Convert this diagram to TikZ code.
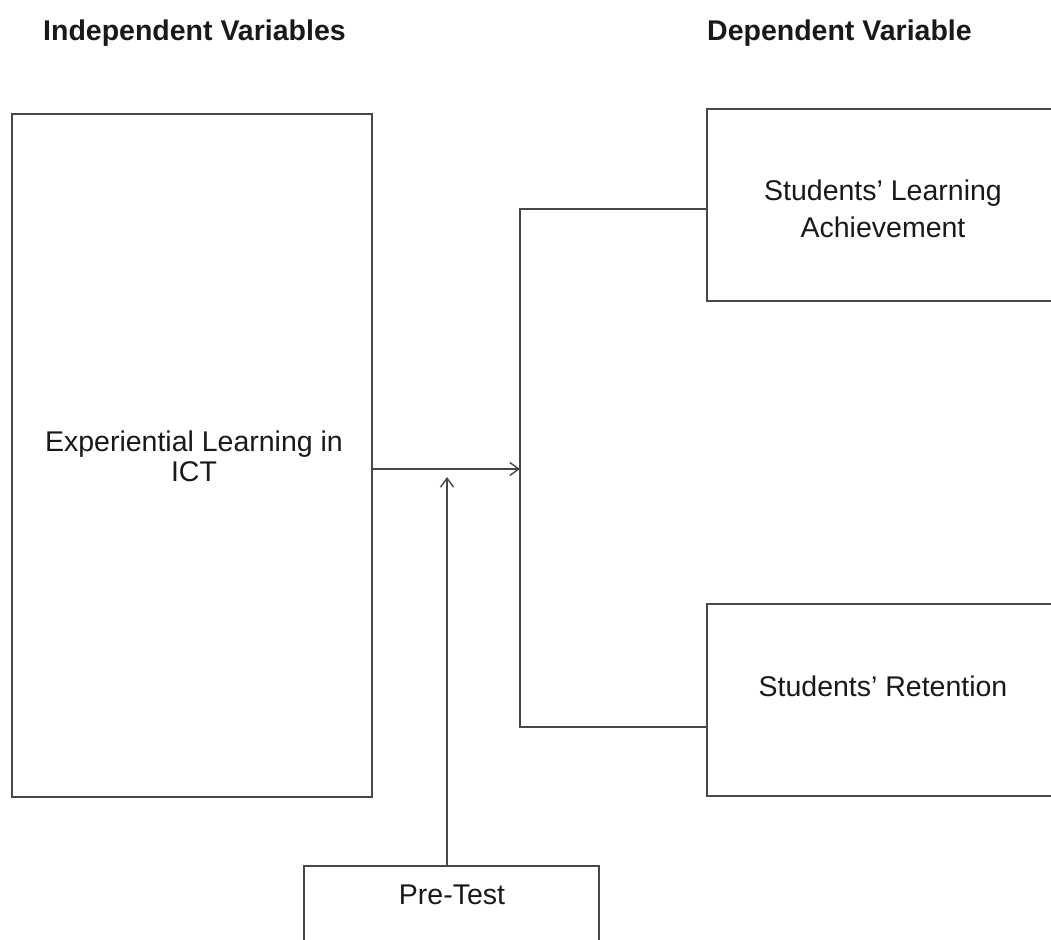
\documentclass[tikz,border=0pt]{standalone}
\usepackage{fontspec}
\setmainfont{Liberation Sans}
\usetikzlibrary{arrows.meta}
\begin{document}
\begin{tikzpicture}[x=1pt,y=-1pt,
  frame/.style={draw=black!72, line width=1.4pt, rectangle, inner sep=0pt},
  label/.style={text=black!90, font=\fontsize{28.5}{31}\selectfont, inner sep=0pt, anchor=base},
  heading/.style={label, font=\fontsize{28.5}{31}\selectfont\bfseries, anchor=base west},
  wire/.style={draw=black!72, line width=1.4pt},
  arr/.style={wire, -{Straight Barb[length=9pt,width=13pt,line width=1.4pt]}}]
\useasboundingbox (0,0) rectangle (1051,939);
\clip (0,0) rectangle (1051,939);

% column headings
\node[heading] (hind) at (43,41) {Independent Variables};
\node[heading] (hdep) at (707,41) {Dependent Variable};

% boxes
\node[frame, minimum width=360pt, minimum height=683pt] (ict) at (192,455.5) {};
\node[frame, minimum width=373pt, minimum height=192pt] (ach) at (893.5,205) {};
\node[frame, minimum width=373pt, minimum height=192pt] (ret) at (893.5,700) {};
\node[frame, minimum width=295pt, minimum height=114pt] (pre) at (451.5,923) {};

% box texts
\node[label] (ict1) at (194,451) {Experiential Learning in};
\node[label] (ict2) at (194,481) {ICT};
\node[label] (ach1) at (883,200) {Students’ Learning};
\node[label] (ach2) at (883,237) {Achievement};
\node[label] (ret1) at (883,696) {Students’ Retention};
\node[label] (pre1) at (452,904) {Pre-Test};

% junction points
\coordinate (j) at (520,469);
\coordinate (jt) at (520,209);
\coordinate (jb) at (520,727);
\coordinate (tip) at (447,477);

% connectors
\draw[wire] (jt -| ach.west) -- (jt) -- (jb) -- (jb -| ret.west);
\draw[arr] (ict.east |- j) -- (j);
\draw[arr] (tip |- pre.north) -- (tip);
\end{tikzpicture}
\end{document}
